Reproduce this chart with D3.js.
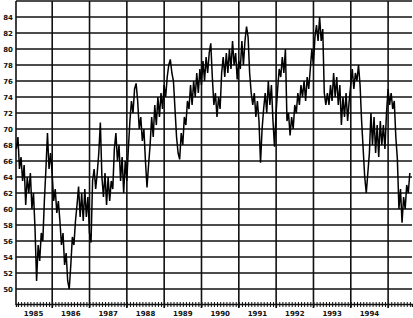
<!DOCTYPE html>
<html><head><meta charset="utf-8">
<script src="https://cdn.jsdelivr.net/npm/d3@7"></script>
<style>html,body{margin:0;padding:0;background:#fff;}svg{display:block;}</style>
</head><body>
<svg id="chart" width="413" height="318"></svg>
<script>
const yearLabels = ["1985","1986","1987","1988","1989","1990","1991","1992","1993","1994"];
const yTicks = [50,52,54,56,58,60,62,64,66,68,70,72,74,76,78,80,82,84];
const seriesStart = 1985.04;   // first sample (decimal year)
const seriesStep = 1/24;       // half-month samples
const prices = [
67.5,69.0,65.0,66.5,63.5,65.5,60.5,64.0,62.0,64.5,60.0,62.0,57.5,51.0,55.5,53.5,57.0,56.0,61.0,65.0,
69.5,65.0,67.0,64.5,61.0,62.5,59.5,61.0,58.5,55.5,57.0,53.0,54.5,51.0,50.0,53.0,56.5,55.5,58.5,60.5,
62.8,59.0,62.0,58.5,62.5,59.0,61.5,57.0,55.8,63.5,65.0,62.5,64.5,67.0,70.8,64.0,61.5,64.5,60.5,64.0,
61.0,63.5,62.5,67.5,69.5,66.0,68.0,63.5,66.5,62.0,66.0,63.5,67.5,71.0,73.5,72.0,75.0,75.7,73.5,70.0,
71.5,68.5,70.0,66.0,62.7,65.5,68.0,71.5,69.0,73.0,70.5,74.0,71.5,74.5,72.5,75.5,74.0,76.5,78.0,78.7,
77.0,76.0,72.5,69.0,67.0,66.2,69.5,68.0,71.5,70.5,73.5,72.5,75.5,73.0,76.0,74.0,77.0,74.5,77.5,75.5,
78.5,76.0,79.0,77.0,79.5,80.7,76.5,73.0,74.5,71.5,74.0,72.5,77.0,79.0,76.5,79.5,77.0,80.0,77.5,81.0,
78.0,79.5,76.2,78.5,77.5,81.0,78.0,81.0,82.8,81.5,77.0,74.5,73.0,74.5,71.5,73.5,71.0,65.8,70.0,72.5,
74.5,72.0,76.0,73.0,75.5,71.0,67.8,72.0,75.0,77.5,76.5,79.0,77.0,80.0,71.0,72.0,69.2,71.5,70.0,73.0,
72.0,74.5,73.0,75.5,74.0,76.0,73.5,76.5,75.0,77.5,80.0,78.0,81.5,83.0,81.0,84.0,81.0,82.5,74.5,73.0,
74.5,73.0,75.5,73.5,77.0,74.0,76.5,73.0,75.5,70.5,74.0,71.5,74.5,71.0,73.5,75.5,77.5,75.0,77.0,76.0,
78.0,75.5,71.0,67.5,64.0,62.0,64.5,67.0,72.0,68.0,71.5,67.0,70.5,66.5,71.0,68.0,70.5,67.5,72.0,75.0,
73.0,74.5,72.5,73.5,69.0,66.2,60.0,62.5,58.3,61.5,60.0,63.0,62.0,64.5
];

const svg = d3.select("#chart");
const L = 16, R = 412, T = 1, B = 305;
const x = d3.scaleLinear().domain([1985.03, 1995.64]).range([L, R]);
const y = d3.scaleLinear().domain([48, 86]).range([B, T]);

// horizontal grid
const gridY = yTicks.concat([86]);
svg.append("g").selectAll("line").data(gridY).join("line")
  .attr("x1", L).attr("x2", R)
  .attr("y1", d => y(d)).attr("y2", d => y(d))
  .attr("stroke", "#111").attr("stroke-width", 1.3);

// vertical year lines
const yearBounds = d3.range(1986, 1996);
svg.append("g").selectAll("line").data(yearBounds).join("line")
  .attr("x1", d => x(d)).attr("x2", d => x(d))
  .attr("y1", T).attr("y2", B + 3)
  .attr("stroke", "#111").attr("stroke-width", 1.6);

// left border
svg.append("line").attr("x1", L).attr("x2", L).attr("y1", T).attr("y2", B)
  .attr("stroke", "#111").attr("stroke-width", 1.6);

// bottom axis with monthly ticks
const months = d3.range(0, 128).map(m => 1985 + m / 12).filter(v => v >= 1985.03 && v <= 1995.64);
const xAxis = d3.axisBottom(x).tickValues(months).tickSize(3).tickFormat("");
const gx = svg.append("g").attr("transform", `translate(0,${B - 1})`).call(xAxis);
gx.select(".domain").attr("stroke", "#111").attr("stroke-width", 1.4);
gx.selectAll(".tick line").attr("stroke", "#111").attr("stroke-width", 1).attr("y1", -2);

// year labels centered in year intervals
svg.append("g").selectAll("text").data(yearLabels).join("text")
  .attr("x", d => x(+d + 0.5))
  .attr("y", 316)
  .attr("text-anchor", "middle")
  .attr("font-family", "DejaVu Sans, sans-serif")
  .attr("font-weight", "bold")
  .attr("font-size", 7)
  .attr("fill", "#111")
  .text(d => d);

// y labels
const yAxis = d3.axisLeft(y).tickValues(yTicks).tickSize(0).tickPadding(3);
const gy = svg.append("g").attr("transform", `translate(${L},0)`).call(yAxis);
gy.select(".domain").remove();
gy.selectAll("text").attr("font-family", "DejaVu Sans, sans-serif")
  .attr("font-weight", "bold").attr("font-size", 7).attr("fill", "#111");

// price line
const pts = prices.map((v, i) => [seriesStart + i * seriesStep, v]);
svg.append("path").datum(pts)
  .attr("fill", "none").attr("stroke", "#000").attr("stroke-width", 1.5)
  .attr("stroke-linejoin", "miter")
  .attr("d", d3.line().x(d => x(d[0])).y(d => y(d[1])));
</script>
</body></html>
